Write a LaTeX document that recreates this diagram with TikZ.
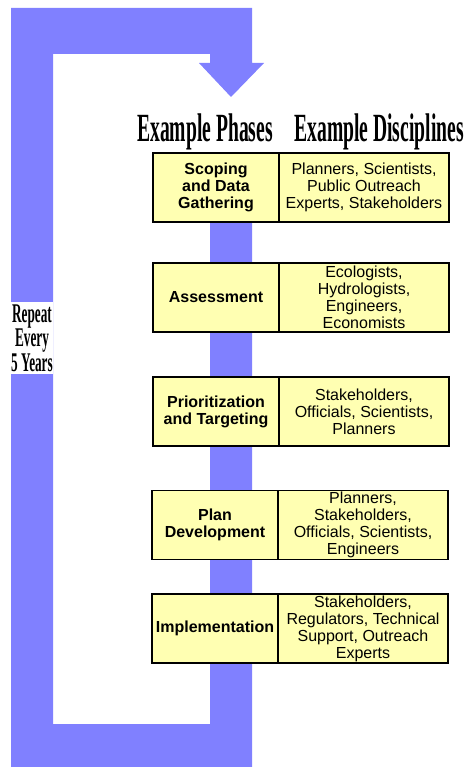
\documentclass[tikz,border=0pt]{standalone}
\usepackage{fontspec}
\usepackage{graphicx}
\setmainfont{Liberation Sans}
\newfontfamily\headserif{Liberation Serif}
\usetikzlibrary{positioning}

\begin{document}
\begin{tikzpicture}[x=1pt, y=-1pt]
    \definecolor{band}{RGB}{128,128,255}
\definecolor{panel}{RGB}{255,255,178}

\newcommand\phasewidth{126}
\newcommand\discwidth{170}
\newcommand\rowheight{69}
\newcommand\squeeze{0.49}

\useasboundingbox (0, 0) rectangle (467, 767);

\begin{scope}
    \tikzset{
        phase/.style={
            draw=black, fill=panel, line width=1.2pt, rectangle,
            minimum width=\phasewidth, minimum height=\rowheight,
            inner sep=0pt, outer sep=0pt, align=center,
            font=\bfseries\fontsize{16}{17}\selectfont,
        },
        discipline/.style={
            phase, minimum width=\discwidth,
            font=\fontsize{16}{17}\selectfont,
        },
        heading/.style={
            anchor=base, inner sep=0pt,
            font=\headserif\bfseries\fontsize{40}{40}\selectfont,
        },
    }

    % the repeat loop, drawn behind the table
    \fill[band]
        (11, 8) -- (252, 8) -- (252, 63) -- (264, 63) -- (231, 97)
        -- (199, 63) -- (210, 63) -- (210, 54) -- (53, 54) -- (53, 724)
        -- (210, 724) -- (210, 200) -- (252, 200) -- (252, 767)
        -- (11, 767) -- cycle;

    \node[fill=white, minimum width=42, minimum height=72, inner sep=0pt,
        align=center, font=\headserif\bfseries\fontsize{27}{23}\selectfont]
        at (32, 338) (repeat) {\scalebox{\squeeze}[1]{Repeat}\\
        \scalebox{\squeeze}[1]{Every}\\\scalebox{\squeeze}[1]{5 Years}};

    \node[heading] at (205, 142) (head-phase)
        {\scalebox{\squeeze}[1]{Example Phases}};
    \node[heading] at (379, 142) (head-disc)
        {\scalebox{\squeeze}[1]{Example Disciplines}};

    \node[phase] at (216, 187.5) (phase-1) {Scoping\\and Data\\Gathering};
    \node[discipline, right=0pt of phase-1] (disc-1)
        {Planners, Scientists,\\Public Outreach\\Experts, Stakeholders};

    \node[phase] at (216, 297.5) (phase-2) {Assessment};
    \node[discipline, right=0pt of phase-2] (disc-2)
        {Ecologists,\\Hydrologists,\\Engineers,\\Economists};

    \node[phase] at (216, 411.5) (phase-3) {Prioritization\\and Targeting};
    \node[discipline, right=0pt of phase-3] (disc-3)
        {Stakeholders,\\Officials, Scientists,\\Planners};

    \node[phase] at (215, 525) (phase-4) {Plan\\Development};
    \node[discipline, right=0pt of phase-4] (disc-4)
        {Planners,\\Stakeholders,\\Officials, Scientists,\\Engineers};

    \node[phase] at (215, 628.5) (phase-5) {Implementation};
    \node[discipline, right=0pt of phase-5] (disc-5)
        {Stakeholders,\\Regulators, Technical\\Support, Outreach\\Experts};
\end{scope}
\end{tikzpicture}
\end{document}
